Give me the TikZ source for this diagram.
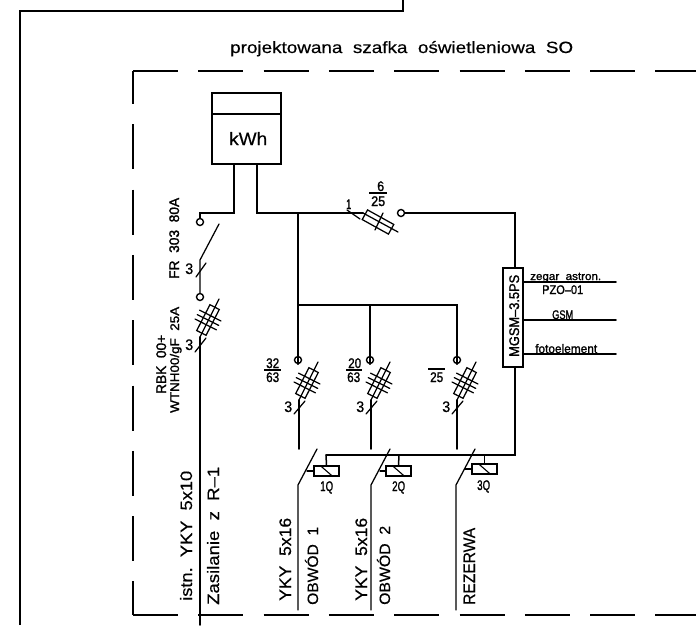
\documentclass[tikz,border=0pt]{standalone}
\usepackage{fontspec}
\usepackage{graphicx}
\setmainfont[Ligatures=TeX,RawFeature={embolden=0.4}]{Liberation Sans}
\newfontfamily\smallface[Ligatures=TeX,RawFeature={embolden=1.5}]{Liberation Sans}
% fitted text: exact width and cap height; small labels are set a little heavier
\newcommand{\T}[3]{\resizebox{#1pt}{#2pt}{\rule{0pt}{7.2pt}\fontsize{10pt}{12pt}\ifdim#2pt<11pt\smallface\fi\selectfont #3}}
\tikzset{
  wire/.style={line width=1.5pt,line cap=round,line join=miter},
  thin wire/.style={line width=1.25pt,line cap=round},
  term/.style={circle,draw,line width=1.4pt,minimum size=7pt,inner sep=0pt},
  fusebox/.style={rectangle,draw,line width=1.25pt,minimum width=10.5pt,minimum height=29pt,inner sep=0pt,rotate=-27},
  coil/.style={rectangle,draw,line width=1.3pt,inner sep=0pt},
  labelh/.style={inner sep=0pt,anchor=base west},
  labelv/.style={inner sep=0pt,anchor=base west,rotate=90},
  cabinet/.style={line width=1.3pt,dash pattern=on 45pt off 20.3pt},
  frameline/.style={line width=1.7pt,line join=miter},
}
\newcommand{\fusev}[3]{%
  \node[fusebox] (#1) at (#2,#3) {};
  \coordinate (#1a) at (#2-8,#3+17);
  \coordinate (#1b) at (#2+11,#3-21);
  \draw[thin wire] (#1a) -- (#1b);
  \foreach \t/\n in {-5/1,0/2,5/3}{
    \coordinate (#1c\n) at ({#2+0.45*\t-10.7},{#3-0.89*\t-5.4});
    \coordinate (#1d\n) at ({#2+0.45*\t+10.7},{#3-0.89*\t+5.4});
    \draw[thin wire] (#1c\n) -- (#1d\n);
  }
}
\begin{document}
\begin{tikzpicture}[x=1pt,y=-1pt]
\useasboundingbox (0,0) rectangle (696,625);
% outer frame
\coordinate (fa) at (20,625); \coordinate (fb) at (20,11); \coordinate (fc) at (403,11); \coordinate (fd) at (403,0);
\draw[frameline] (fa) -- (fb) -- (fc) -- (fd);
% cabinet outline
\coordinate (ca) at (133,71); \coordinate (cb) at (696,71); \coordinate (cc) at (133,615); \coordinate (cd) at (696,615);
\draw[cabinet] (ca) -- (cb);
\draw[cabinet,dash phase=12pt] (ca) -- (cc);
\draw[cabinet] (cc) -- (cd);
\node[labelh] (title) at (230,53) {\T{343}{12}{projektowana~~szafka~~oświetleniowa~~SO}};
% meter
\node[rectangle,draw,line width=1.4pt,minimum width=69pt,minimum height=71pt,inner sep=0pt] (meter) at (246.5,128.5) {};
\coordinate (mdl) at (212,114); \coordinate (mdr) at (281,114);
\draw[line width=1.3pt] (mdl) -- (mdr);
\node[labelh] (kwh) at (229,145) {\T{38}{13}{kWh}};
\coordinate (ml) at (234,164); \coordinate (mr) at (257,164);
\coordinate (j1) at (298,213);
% feed switch
\node[term] (t1) at (200,222) {};
\coordinate (mlb) at (234,213); \coordinate (t1t) at (200,213);
\draw[wire] (ml) -- (mlb) -- (t1t) -- (t1.north);
\coordinate (s1a) at (219,224); \coordinate (s1b) at (200,260);
\node[term] (t2) at (200,297) {};
\draw[thin wire] (s1a) -- (s1b) -- (t2.north);
\coordinate (s1c) at (196,277); \coordinate (s1d) at (206,263);
\draw[thin wire] (s1c) -- (s1d);
\node[labelh] (n3a) at (185,274) {\T{8}{11}{3}};
\node[labelv] (fr) at (179,279) {\T{81}{10}{FR~~303~~80A}};
% feed fuse
\fusev{fa1}{208}{320}
\coordinate (feedb) at (200,625);
\draw[wire] (fa1a) -- (feedb);
\coordinate (s2c) at (195,352); \coordinate (s2d) at (206,338);
\draw[thin wire] (s2c) -- (s2d);
\node[labelh] (n3b) at (185,350) {\T{8}{11}{3}};
\node[labelv] (rbk) at (166,394) {\T{59}{10}{RBK~~00+}};
\node[labelv] (wtn) at (179,413) {\T{106}{9}{WTNH00/gF~~25A}};
\node[labelv] (istn) at (192,601) {\T{130}{12}{istn.~~YKY~~5x10}};
\node[labelv] (zas) at (219,605) {\T{138}{12}{Zasilanie~~z~~R--1}};
% main bus and control fuse
\coordinate (mrb) at (257,213);
\coordinate (f0a) at (363,213); \coordinate (f0b) at (398,232);
\draw[wire] (mr) -- (mrb) -- (j1) -- (f0a);
\draw[thin wire] (f0a) -- (f0b);
\node[rectangle,draw,line width=1.25pt,minimum width=30pt,minimum height=11pt,inner sep=0pt,rotate=-29] (f0) at (378,222) {};
\coordinate (f0c) at (383,213); \coordinate (f0d) at (375,230);
\draw[thin wire] (f0c) -- (f0d);
\coordinate (f0e) at (347,210); \coordinate (f0f) at (360,219);
\draw[thin wire] (f0e) -- (f0f);
\node[labelh] (n1) at (346,209) {\T{5}{10}{1}};
\node[labelh] (n6) at (377,191) {\T{7}{10}{6}};
\coordinate (b0a) at (369,193); \coordinate (b0b) at (387,193);
\draw[line width=1.2pt] (b0a) -- (b0b);
\node[labelh] (n25) at (371,206) {\T{14}{10}{25}};
\node[term] (t3) at (401,213) {};
% MGSM module
\node[rectangle,draw,line width=1.5pt,minimum width=20pt,minimum height=99pt,inner sep=0pt] (mgsm) at (513,317.5) {};
\node[labelv] (mgsmt) at (519,357) {\T{82}{10}{MGSM--3.5PS}};
\coordinate (t3r) at (515,213);
\coordinate (mgt) at (515,268);
\draw[wire] (t3.east) -- (t3r) -- (mgt);
\coordinate (o1a) at (523,282); \coordinate (o1b) at (616,282);
\coordinate (o2a) at (523,320); \coordinate (o2b) at (616,320);
\coordinate (o3a) at (523,354); \coordinate (o3b) at (616,354);
\draw[wire] (o1a) -- (o1b);
\draw[wire] (o2a) -- (o2b);
\draw[wire] (o3a) -- (o3b);
\node[labelh] (zeg) at (530,280) {\T{71}{8}{zegar~~astron.}};
\node[labelh] (pzo) at (542,294) {\T{41}{9}{PZO--01}};
\node[labelh] (gsm) at (552,319) {\T{21}{9}{GSM}};
\node[labelh] (foto) at (535,353) {\T{62}{9}{fotoelement}};
% distribution
\coordinate (j2) at (298,305); \coordinate (j3) at (370,305); \coordinate (j4) at (457,305);
\node[term] (c1) at (298,360) {};
\node[term] (c2) at (370,360) {};
\node[term] (c3) at (457,360) {};
\draw[wire] (j1) -- (c1.south);
\draw[wire] (j2) -- (j4) -- (c3.south);
\draw[wire] (j3) -- (c2.south);
% outgoing fuses
\fusev{fb1}{307}{383}
\fusev{fb2}{379}{383}
\fusev{fb3}{465}{383}
\foreach \nm/\x in {1/299,2/371,3/457}{
  \coordinate (oe\nm) at (\x,449);
  \coordinate (tk\nm a) at (\x-5,414);
  \coordinate (tk\nm b) at (\x+6,401);
  \draw[thin wire] (tk\nm a) -- (tk\nm b);
  \node[labelh] (tn\nm) at (\x-15,412) {\T{8}{11}{3}};
}
\draw[wire] (fb1a) -- (oe1);
\draw[wire] (fb2a) -- (oe2);
\draw[wire] (fb3a) -- (oe3);
% ratings
\node[labelh] (r32) at (266,368) {\T{13}{10}{32}};
\coordinate (ba1) at (264,370); \coordinate (bb1) at (281,370);
\draw[line width=1.2pt] (ba1) -- (bb1);
\node[labelh] (r63a) at (266,382) {\T{13}{10}{63}};
\node[labelh] (r20) at (348,368) {\T{13}{10}{20}};
\coordinate (ba2) at (346,370); \coordinate (bb2) at (362,370);
\draw[line width=1.2pt] (ba2) -- (bb2);
\node[labelh] (r63b) at (347,382) {\T{13}{10}{63}};
\coordinate (ba3) at (428,369); \coordinate (bb3) at (445,369);
\draw[line width=1.2pt] (ba3) -- (bb3);
\node[labelh] (r25) at (430,382) {\T{13}{10}{25}};
% contactors
\coordinate (ctl) at (326,455);
\coordinate (ctr) at (515,455);
\coordinate (mgb) at (515,367);
\draw[wire] (mgb) -- (ctr) -- (ctl);
\node[coil,minimum width=25pt,minimum height=10pt] (q1) at (326.5,471) {};
\node[coil,minimum width=25pt,minimum height=10pt] (q2) at (398.5,471) {};
\node[coil,minimum width=25pt,minimum height=10pt] (q3) at (484.5,469) {};
\draw[wire] (ctl) -- (q1.north);
\coordinate (c2t) at (399,455); \draw[wire] (c2t) -- (q2.north);
\coordinate (c3t) at (484.5,455); \draw[wire] (c3t) -- (q3.north);
\foreach \nm/\x/\yy in {1/298/471,2/371/471,3/456/469}{
  \coordinate (bl\nm a) at (\x+19,449);
  \coordinate (bl\nm b) at (\x,485);
  \coordinate (bl\nm c) at (\x,610);
  \draw[thin wire] (bl\nm a) -- (bl\nm b) -- (bl\nm c);
  \coordinate (lk\nm) at (\x+9,\yy);
}
\draw[thin wire] (lk1) -- (q1.west);
\draw[thin wire] (lk2) -- (q2.west);
\draw[thin wire] (lk3) -- (q3.west);
\draw[line width=1.1pt] ([xshift=-6.5pt]q1.north) -- ([xshift=6.5pt]q1.south);
\draw[line width=1.1pt] ([xshift=-6.5pt]q2.north) -- ([xshift=6.5pt]q2.south);
\draw[line width=1.1pt] ([xshift=-6.5pt]q3.north) -- ([xshift=6.5pt]q3.south);
\node[labelh] (l1q) at (320,491) {\T{13}{10}{1Q}};
\node[labelh] (l2q) at (392,491) {\T{13}{10}{2Q}};
\node[labelh] (l3q) at (477,490) {\T{13}{10}{3Q}};
% cable labels
\node[labelv] (yk1) at (291,601) {\T{83}{12}{YKY~~5x16}};
\node[labelv] (ob1) at (318,605) {\T{78}{13}{OBWÓD~~1}};
\node[labelv] (yk2) at (367,601) {\T{83}{12}{YKY~~5x16}};
\node[labelv] (ob2) at (390,605) {\T{79}{13}{OBWÓD~~2}};
\node[labelv] (rez) at (475,605) {\T{77}{12}{REZERWA}};
\end{tikzpicture}
\end{document}
